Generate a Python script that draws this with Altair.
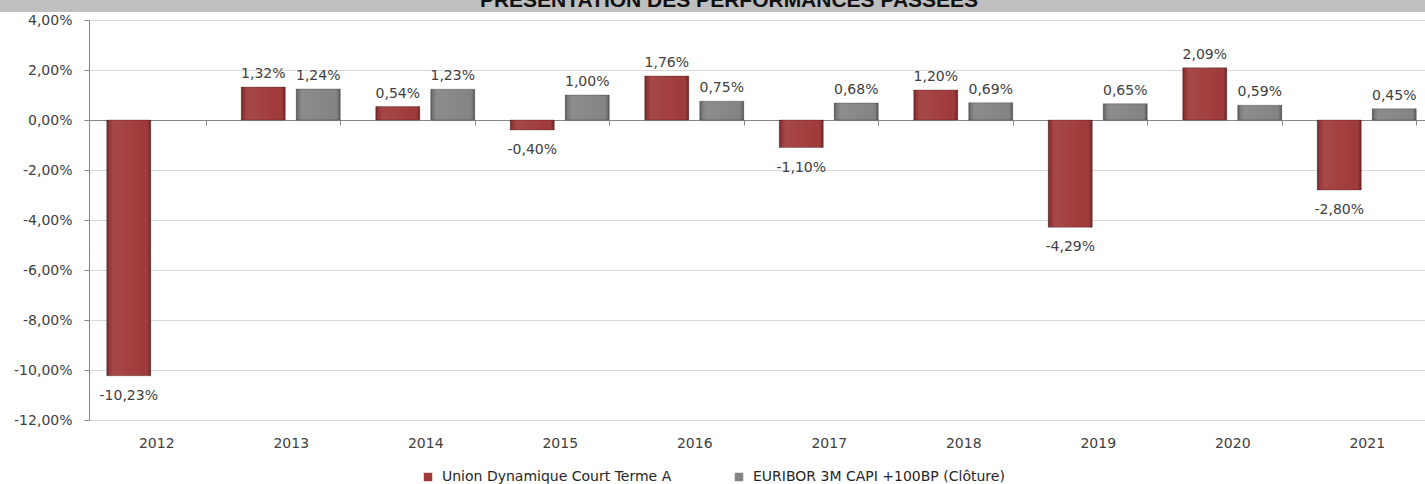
import altair as alt
import pandas as pd

years = ["2012", "2013", "2014", "2015", "2016", "2017", "2018", "2019", "2020", "2021"]
fund_name = "Union Dynamique Court Terme A"
bench_name = "EURIBOR 3M CAPI +100BP (Clôture)"
fund_values = [-10.23, 1.32, 0.54, -0.40, 1.76, -1.10, 1.20, -4.29, 2.09, -2.80]
bench_values = [None, 1.24, 1.23, 1.00, 0.75, 0.68, 0.69, 0.65, 0.59, 0.45]
y_ticks = [-12, -10, -8, -6, -4, -2, 0, 2, 4]
title_text = "PRÉSENTATION DES PERFORMANCES PASSÉES"

rows = []
for yr, f, b in zip(years, fund_values, bench_values):
    if f is not None:
        rows.append({"year": yr, "series": fund_name, "value": f})
    if b is not None:
        rows.append({"year": yr, "series": bench_name, "value": b})
df = pd.DataFrame(rows)

RED = "#A03A3A"
GRAY = "#848484"
TXT = "#404040"
FONT = "DejaVu Sans"

x_enc = alt.X(
    "year:N",
    sort=years,
    scale=alt.Scale(range=[0, 1345], paddingInner=0.264, paddingOuter=0.132),
    axis=alt.Axis(
        title=None,
        orient="bottom",
        offset=-300,
        domainColor="#868686",
        tickColor="#868686",
        tickSize=5,
        tickBand="extent",
        labelPadding=311,
        labelFont=FONT,
        labelFontSize=14,
        labelColor=TXT,
        labelAngle=0,
        grid=False,
    ),
)
xo_enc = alt.XOffset(
    "series:N",
    scale=alt.Scale(domain=[fund_name, bench_name], paddingInner=0.2, paddingOuter=0),
)
y_enc = alt.Y(
    "value:Q",
    scale=alt.Scale(domain=[-12, 4], nice=False, zero=True),
    axis=alt.Axis(
        title=None,
        values=y_ticks,
        labelExpr="(datum.value < 0 ? '-' : '') + replace(format(abs(datum.value), '.2f'), '.', ',') + '%'",
        grid=True,
        gridColor="#D9D9D9",
        domainColor="#868686",
        tickColor="#868686",
        tickSize=5,
        labelPadding=12,
        labelFont=FONT,
        labelFontSize=14,
        labelColor=TXT,
    ),
)

base = alt.Chart(df)

bars = base.mark_bar(stroke="rgba(0,0,0,0.25)", strokeWidth=1).encode(
    x=x_enc,
    xOffset=xo_enc,
    y=y_enc,
    color=alt.Color(
        "series:N",
        scale=alt.Scale(domain=[fund_name, bench_name], range=[RED, GRAY]),
        legend=alt.Legend(
            title=None,
            orient="none",
            direction="horizontal",
            legendX=332,
            legendY=450,
            symbolType="square",
            symbolSize=72,
            symbolStrokeWidth=0,
            labelFont=FONT,
            labelFontSize=14,
            labelColor="#262626",
            labelOffset=7,
            columnPadding=60,
            padding=0,
            labelLimit=400,
        ),
    ),
)

bevel = base.mark_bar(
    fill=alt.LinearGradient(
        gradient="linear",
        x1=0, y1=0, x2=1, y2=0,
        stops=[
            alt.GradientStop(offset=0, color="rgba(0,0,0,0.30)"),
            alt.GradientStop(offset=0.06, color="rgba(0,0,0,0.06)"),
            alt.GradientStop(offset=0.14, color="rgba(255,255,255,0.07)"),
            alt.GradientStop(offset=0.86, color="rgba(255,255,255,0.0)"),
            alt.GradientStop(offset=0.94, color="rgba(0,0,0,0.08)"),
            alt.GradientStop(offset=1, color="rgba(0,0,0,0.32)"),
        ],
    )
).encode(x=alt.X("year:N", sort=years), xOffset="series:N", y="value:Q")

label_expr = "(datum.value < 0 ? '-' : '') + replace(format(abs(datum.value), '.2f'), '.', ',') + '%'"

pos_labels = base.transform_filter("datum.value >= 0").transform_calculate(
    lbl=label_expr
).mark_text(font=FONT, fontSize=14, color=TXT, baseline="alphabetic", dy=-9).encode(
    x=alt.X("year:N", sort=years), xOffset="series:N", y="value:Q", text="lbl:N"
)

neg_labels = base.transform_filter("datum.value < 0").transform_calculate(
    lbl=label_expr
).mark_text(font=FONT, fontSize=14, color=TXT, baseline="alphabetic", dy=24).encode(
    x=alt.X("year:N", sort=years), xOffset="series:N", y="value:Q", text="lbl:N"
)

title_df = pd.DataFrame({"t": [title_text]})
title_bar = alt.Chart(title_df).mark_rect(color="#BFBFBF").encode(
    x=alt.value(-89), x2=alt.value(1336), y=alt.value(-20), y2=alt.value(-8)
)
title_mark = alt.Chart(title_df).mark_text(
    font="Liberation Sans", fontSize=21, fontWeight="bold", color="#111111",
    baseline="alphabetic", align="center"
).encode(x=alt.value(640), y=alt.value(-13), text="t:N")

chart = alt.layer(bars, bevel, pos_labels, neg_labels, title_bar, title_mark).properties(
    width=1336,
    height=400,
    autosize=alt.AutoSizeParams(type="none"),
    padding={"left": 89, "top": 20, "right": 0, "bottom": 64},
    background="white",
).configure_view(stroke=None)

chart.save("out.html", embed_options={"renderer": "svg", "actions": False})
